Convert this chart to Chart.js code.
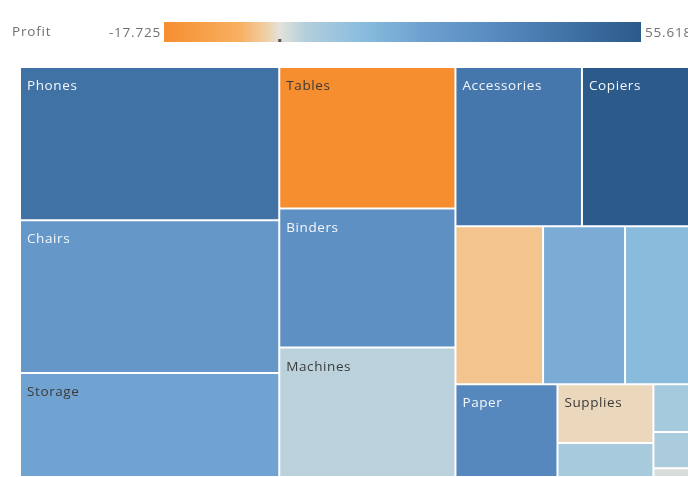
<!DOCTYPE html>
<html>
<head>
<meta charset="utf-8">
<script src="https://cdn.jsdelivr.net/npm/chart.js@4/dist/chart.umd.min.js"></script>
<style>
  html, body { margin: 0; padding: 0; background: #fff; overflow: hidden; }
  #wrap { position: absolute; left: 0; top: 0; width: 696px; height: 477px; }
</style>
</head>
<body>
<div id="wrap"><canvas id="myChart" width="696" height="477"></canvas></div>
<script>
// Superstore sub-categories, sized by sales, coloured by profit
const subCategories = ['Phones', 'Chairs', 'Storage', 'Tables', 'Binders', 'Machines', 'Accessories', 'Copiers',
  'Bookcases', 'Appliances', 'Furnishings', 'Paper', 'Supplies', 'Art', 'Envelopes', 'Labels', 'Fasteners'];
const sales = [330007, 328449, 223844, 206966, 203413, 189239, 167380, 149528,
  114880, 107532, 91705, 78479, 46674, 27119, 16476, 12486, 3024];
const profit = [44516, 26590, 21279, -17725, 30222, 3385, 41937, 55618,
  -3473, 18138, 13059, 34054, -1189, 6528, 6964, 5546, 950];
// cells that carry a visible label in the reference
const labelled = ['Phones', 'Chairs', 'Storage', 'Tables', 'Binders', 'Machines', 'Accessories', 'Copiers', 'Paper', 'Supplies'];
// colour legend range and its tick labels
const profitMin = -17725;
const profitMax = 55618;
const legendTicks = ['-17.725', '55.618'];

// orange-blue diverging palette (profit value -> colour)
const colorStops = [
  [-17725, '#f68e2f'], [-6000, '#f8b062'], [-2000, '#f0cfa6'], [0, '#e4e2da'],
  [4000, '#b3cfdc'], [12000, '#8cbedf'], [22000, '#6ea1d0'], [35000, '#5486bc'], [55618, '#2b5a8b']
];

function hexRgb(h) {
  return [parseInt(h.slice(1, 3), 16), parseInt(h.slice(3, 5), 16), parseInt(h.slice(5, 7), 16)];
}
function profitRgb(v) {
  if (v <= colorStops[0][0]) return hexRgb(colorStops[0][1]);
  for (let i = 1; i < colorStops.length; i++) {
    if (v <= colorStops[i][0]) {
      const a = colorStops[i - 1], b = colorStops[i];
      const t = (v - a[0]) / (b[0] - a[0]);
      const ca = hexRgb(a[1]), cb = hexRgb(b[1]);
      return ca.map((c, k) => Math.round(c + (cb[k] - c) * t));
    }
  }
  return hexRgb(colorStops[colorStops.length - 1][1]);
}
function profitColor(v) {
  const c = profitRgb(v);
  return 'rgb(' + c.join(',') + ')';
}

// squarified layout, golden ratio target (same as d3.treemapSquarify)
function squarify(values, x0, y0, x1, y1) {
  const ratio = (1 + Math.sqrt(5)) / 2;
  const out = [];
  const n = values.length;
  let value = values.reduce((a, b) => a + b, 0);
  let i0 = 0, i1 = 0;
  while (i0 < n) {
    const dx = x1 - x0, dy = y1 - y0;
    let sum = values[i1++];
    let minV = sum, maxV = sum;
    const alpha = Math.max(dy / dx, dx / dy) / (value * ratio);
    let beta = sum * sum * alpha;
    let minRatio = Math.max(maxV / beta, beta / minV);
    for (; i1 < n; ++i1) {
      const v = values[i1];
      sum += v;
      if (v < minV) minV = v;
      if (v > maxV) maxV = v;
      beta = sum * sum * alpha;
      const r = Math.max(maxV / beta, beta / minV);
      if (r > minRatio) { sum -= v; break; }
      minRatio = r;
    }
    if (dx < dy) {
      const h = dy * sum / value;
      let x = x0;
      for (let i = i0; i < i1; i++) {
        const w = dx * values[i] / sum;
        out[i] = {x0: x, x1: x + w, y0: y0, y1: y0 + h};
        x += w;
      }
      y0 += h;
    } else {
      const w = dx * sum / value;
      let y = y0;
      for (let i = i0; i < i1; i++) {
        const h = dy * values[i] / sum;
        out[i] = {x0: x0, x1: x0 + w, y0: y, y1: y + h};
        y += h;
      }
      x0 += w;
    }
    value -= sum;
    i0 = i1;
  }
  return out;
}

// minimal treemap controller drawing each cell as a bar element
class TreemapController extends Chart.DatasetController {
  static id = 'treemap';
  static defaults = { datasetElementType: false, dataElementType: 'bar' };
  static overrides = {
    scales: { x: { type: 'linear', display: false }, y: { type: 'linear', display: false } }
  };
  update(mode) {
    const meta = this._cachedMeta;
    this.updateElements(meta.data, 0, meta.data.length, mode);
  }
  updateElements(rects, start, count, mode) {
    const {xScale, yScale} = this._cachedMeta;
    const boxes = squarify(this.getDataset().data,
      xScale.getPixelForValue(0), yScale.getPixelForValue(0),
      xScale.getPixelForValue(1), yScale.getPixelForValue(1));
    for (let i = start; i < start + count; i++) {
      const b = boxes[i];
      this.updateElement(rects[i], i, {
        x: (b.x0 + b.x1) / 2,
        y: b.y0,
        base: b.y1,
        width: b.x1 - b.x0,
        height: b.y1 - b.y0,
        horizontal: false,
        borderSkipped: {},
        inflateAmount: 0,
        options: this.resolveDataElementOptions(i, mode)
      }, mode);
    }
  }
}
Chart.register(TreemapController);

// cell captions, top-left of each cell
const cellLabels = {
  id: 'cellLabels',
  afterDatasetsDraw(chart) {
    const ctx = chart.ctx;
    const meta = chart.getDatasetMeta(0);
    ctx.save();
    ctx.font = '13.5px "Open Sans"';
    ctx.letterSpacing = '0.6px';
    ctx.textBaseline = 'alphabetic';
    ctx.textAlign = 'left';
    meta.data.forEach((el, i) => {
      if (!labelled.includes(subCategories[i])) return;
      const c = profitRgb(profit[i]);
      const lum = 0.299 * c[0] + 0.587 * c[1] + 0.114 * c[2];
      ctx.fillStyle = lum > 147 ? '#3a3a3a' : '#f4f7fb';
      ctx.fillText(subCategories[i], el.x - el.width / 2 + 7, el.y + 23);
    });
    ctx.restore();
  }
};

// colour legend at the top
const profitLegend = {
  id: 'profitLegend',
  afterDraw(chart) {
    const ctx = chart.ctx;
    const left = 164, right = 641, top = 22, bottom = 42;
    ctx.save();
    const grad = ctx.createLinearGradient(left, 0, right, 0);
    colorStops.forEach(s => grad.addColorStop((s[0] - profitMin) / (profitMax - profitMin), s[1]));
    ctx.fillStyle = grad;
    ctx.fillRect(left, top, right - left, bottom - top);
    const zx = left + (0 - profitMin) / (profitMax - profitMin) * (right - left);
    ctx.fillStyle = '#555';
    ctx.fillRect(zx - 1, bottom - 3, 3, 3);
    ctx.font = '13.5px "Open Sans"';
    ctx.letterSpacing = '0.8px';
    ctx.fillStyle = '#707070';
    ctx.textBaseline = 'middle';
    ctx.textAlign = 'left';
    ctx.fillText('Profit', 12, 32);
    ctx.textAlign = 'right';
    ctx.fillText(legendTicks[0], left - 3, 33);
    ctx.textAlign = 'left';
    ctx.fillText(legendTicks[1], right + 4, 33);
    ctx.restore();
  }
};

const config = {
  type: 'treemap',
  data: {
    labels: subCategories,
    datasets: [{
      label: 'Sales',
      data: sales,
      backgroundColor: ctx => profitColor(profit[ctx.dataIndex]),
      borderColor: '#ffffff',
      borderWidth: 1
    }]
  },
  options: {
    responsive: false,
    animation: false,
    events: [],
    layout: { padding: { left: 20, top: 67, right: 1, bottom: 0 } },
    scales: {
      x: { type: 'linear', min: 0, max: 1, display: false },
      y: { type: 'linear', min: 0, max: 1, reverse: true, display: false }
    },
    plugins: {
      legend: { display: false },
      tooltip: { enabled: false }
    }
  },
  plugins: [cellLabels, profitLegend]
};

const ctx = document.getElementById('myChart').getContext('2d');
const myChart = new Chart(ctx, config);
</script>
</body>
</html>
